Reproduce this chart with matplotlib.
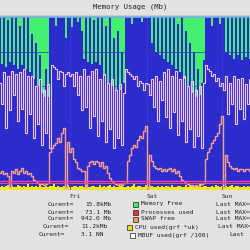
import matplotlib
matplotlib.use("Agg")
import matplotlib.pyplot as plt
from matplotlib.patches import Rectangle
import numpy as np

# samples every 2 px of the original graph, values in % of total memory
mem_used = [100, 73, 100, 71, 98, 74, 100, 72, 100, 70, 95, 72, 100, 70, 100, 68, 90,
            64, 85, 60, 78, 56, 54, 70, 54, 100,
            100, 100, 95, 100, 100, 100, 100, 88, 100, 100, 94, 100, 100, 97, 100, 92,
            76, 100, 74, 100, 73, 98, 74, 100, 72, 100, 66, 95, 62, 100, 60, 88, 58, 92, 58, 80, 62,
            100, 100, 100, 96, 100, 100, 100, 100, 97, 100, 100, 100, 100,
            85, 100, 80, 100, 78, 100, 76, 100,
            74, 100, 72, 100, 70, 96, 68, 100, 64, 92, 60, 85,
            56, 80, 54, 70, 55, 62, 75,
            100, 100, 100, 95, 100, 100, 100, 96, 100, 100,
            80, 100, 78, 100, 76, 100, 78, 100, 75, 100, 77, 100, 76]

buffers = [62, 50, 68, 36, 66, 46, 69, 55, 67, 40, 68, 47, 70, 33, 66, 44,
           66, 30, 60, 38, 64, 26, 58, 33, 61, 24,
           72, 71, 70, 64, 69, 68, 60, 67, 68, 66, 67, 60, 68, 55, 66, 46,
           70, 48, 66, 36, 69, 43, 70, 31, 64, 40, 67, 28, 62, 35, 64, 24, 58, 30, 61, 26, 56,
           70, 68, 67, 66, 64, 66, 60, 63, 62, 58, 62, 61, 55,
           64, 48, 66, 40, 63, 52, 68, 42,
           70, 36, 66, 45, 69, 32, 64, 40, 66, 28, 60, 35, 63, 25, 58, 31, 60, 24, 62,
           72, 70, 69, 66, 67, 63, 65, 60, 62, 58,
           66, 44, 62, 50, 66, 38, 64, 47, 65, 41, 61, 50, 64]

swap = [10, 11, 9, 10, 8, 2, 11, 10, 12, 9, 11, 13, 10, 11, 9, 10, 8,
        6, 5, 4, 3.5, 3.5, 3, 3.5, 4, 22,
        24, 26, 27, 30, 28, 33, 36, 1, 28, 22, 24, 18, 16, 13, 12, 11,
        11, 2, 14, 16, 17, 15, 17, 16, 14, 16, 13, 14, 10, 7, 5, 4, 3.5, 3, 3.5, 3, 4,
        4, 17, 20, 24, 26, 25, 29, 31, 30, 34, 37, 1, 20,
        17, 14, 13, 12, 13, 11, 12, 11,
        12, 13, 11, 12, 10, 11, 8, 6, 5, 4, 3.5, 3,
        3, 2.5, 3, 2.5, 3, 3.5, 4,
        18, 22, 24, 27, 29, 31, 33, 38, 43, 2,
        20, 16, 14, 13, 12, 13, 11, 12, 12, 11, 12, 12, 11]

cpu = [2.0, 2.6, 1.6, 2.2, 3.0, 1.8, 2.4, 2.0, 1.5, 2.8, 2.1, 1.7, 2.5, 2.0, 3.2, 1.8,
       2.2, 1.6, 2.4, 1.9, 2.7, 1.5, 2.0, 2.3, 1.8, 2.6, 2.1, 3.4, 1.7, 2.2, 2.0, 1.6,
       2.5, 1.9, 2.8, 2.0, 1.7, 2.3, 2.6, 1.8, 2.1, 2.4, 1.6, 2.9, 2.0, 1.8, 2.2, 2.5,
       1.7, 2.0, 3.1, 1.9, 2.3, 1.6, 2.1, 2.7, 1.8, 2.2, 2.0, 1.5, 2.4, 2.6, 1.8, 2.0,
       2.3, 1.7, 2.5, 3.3, 1.9, 2.1, 2.4, 1.6, 2.0, 2.8, 1.8, 2.2, 2.5, 1.7, 2.0, 2.3,
       1.9, 2.6, 1.6, 2.1, 2.4, 1.8, 3.0, 2.0, 1.7, 2.2, 2.5, 1.9, 2.0, 2.7, 1.6, 2.3,
       2.1, 1.8, 2.4, 2.0, 3.2, 1.7, 2.2, 2.6, 1.9, 2.0, 2.4, 1.6, 2.8, 2.1, 1.8, 2.3,
       2.0, 2.5, 1.7, 2.2, 2.9, 1.8, 2.1, 2.4, 1.6, 2.0, 2.6, 1.9, 2.2, 2.0]

procs_used = 4.0
mbuf_used = 5.2

day_ticks = [75, 152, 227]
day_labels = ["Fri", "Sat", "Sun"]

legend_rows = [
    ("Curent=", "15.8kMb", "Memory Free", "Last MAX=", "#40ec6a"),
    ("Curent=", "73.1 Mb", "Processes used", "Last MAX=", "#e03a3a"),
    ("Curent=", "942.0 Mb", "SWAP free", "Last MAX=", "#e8a050"),
    ("Curent=", "11.2kMb", "CPU used(grf *uk)", "Last MAX=", "#f0d800"),
    ("Curent=", "3.1 NN", "MBUF used(grf /100)", "Last", "#ffffff"),
]
# x offsets of the columns for each row (px), roughly as in the original
row_x = [(48, 85, 133, 216), (48, 85, 133, 216), (48, 81, 133, 216),
         (43, 81, 127, 218), (39, 81, 130, 229)]
row_y = [204, 212, 219, 227, 235]

x = np.arange(len(mem_used)) * 2

fig = plt.figure(figsize=(2.5, 2.5), dpi=100)
fig.patch.set_facecolor("#e2e2e2")
ax = fig.add_axes([0, 1 - 190 / 250, 1, 173 / 250])
ax.set_xlim(0, 250)
ax.set_ylim(0, 100)

ax.fill_between(x, 0, 100, color="#44f070", step="mid", lw=0)
ax.fill_between(x, 0, mem_used, color="#2c2ccc", step="mid", lw=0)
for d in day_ticks:
    ax.axvline(d - 5, color="#4040d4", lw=0.5)
for v in [20, 40, 60, 80]:
    ax.axhline(v, color="#3434d0", lw=0.5)
ax.plot(x, buffers, color="#f2c4f8", lw=0.8, drawstyle="steps-mid")
ax.plot(x, swap, color="#f4a08c", lw=1.0, drawstyle="steps-mid")
ax.axhline(mbuf_used, color="#ff3cc8", lw=0.9)
ax.axhline(procs_used, color="#ff5050", lw=0.7)
ax.fill_between(x, 0, cpu, color="#f2ea10", step="mid", lw=0)

for s in ax.spines.values():
    s.set_visible(False)
ax.spines["top"].set_visible(True)
ax.spines["top"].set_color("#78a8e8")
ax.spines["top"].set_linewidth(1.2)
ax.set_xticks([])
ax.set_yticks([])

mono = "DejaVu Sans Mono"
fig.text(130 / 250, 1 - 7 / 250, "Memory Usage (Mb)", ha="center", va="center",
         family=mono, fontsize=5.2, color="#222222")
fig.add_artist(plt.Line2D([0, 1], [1 - 14.5 / 250] * 2, color="#c8c8c8", lw=0.6))

for d, lab in zip(day_ticks, day_labels):
    fig.text(d / 250, 1 - 196 / 250, lab, ha="center", va="center",
             family=mono, fontsize=4.5, color="#333333")

for (cur, val, name, last, col), (xc, xv, xb, xl), yy in zip(legend_rows, row_x, row_y):
    yf = 1 - yy / 250
    fig.text(xc / 250, yf, cur, ha="left", va="center", family=mono, fontsize=4.5, color="#222222")
    fig.text(xv / 250, yf, val, ha="left", va="center", family=mono, fontsize=4.5, color="#222222")
    fig.add_artist(Rectangle((xb / 250, yf - 2.5 / 250), 5 / 250, 5 / 250,
                             facecolor=col, edgecolor="#222222", lw=0.5,
                             transform=fig.transFigure))
    fig.text((xb + 8) / 250, yf, name, ha="left", va="center", family=mono, fontsize=4.5, color="#222222")
    fig.text(xl / 250, yf, last, ha="left", va="center", family=mono, fontsize=4.5, color="#222222")

fig.savefig("out.png", dpi=100, facecolor=fig.get_facecolor())
